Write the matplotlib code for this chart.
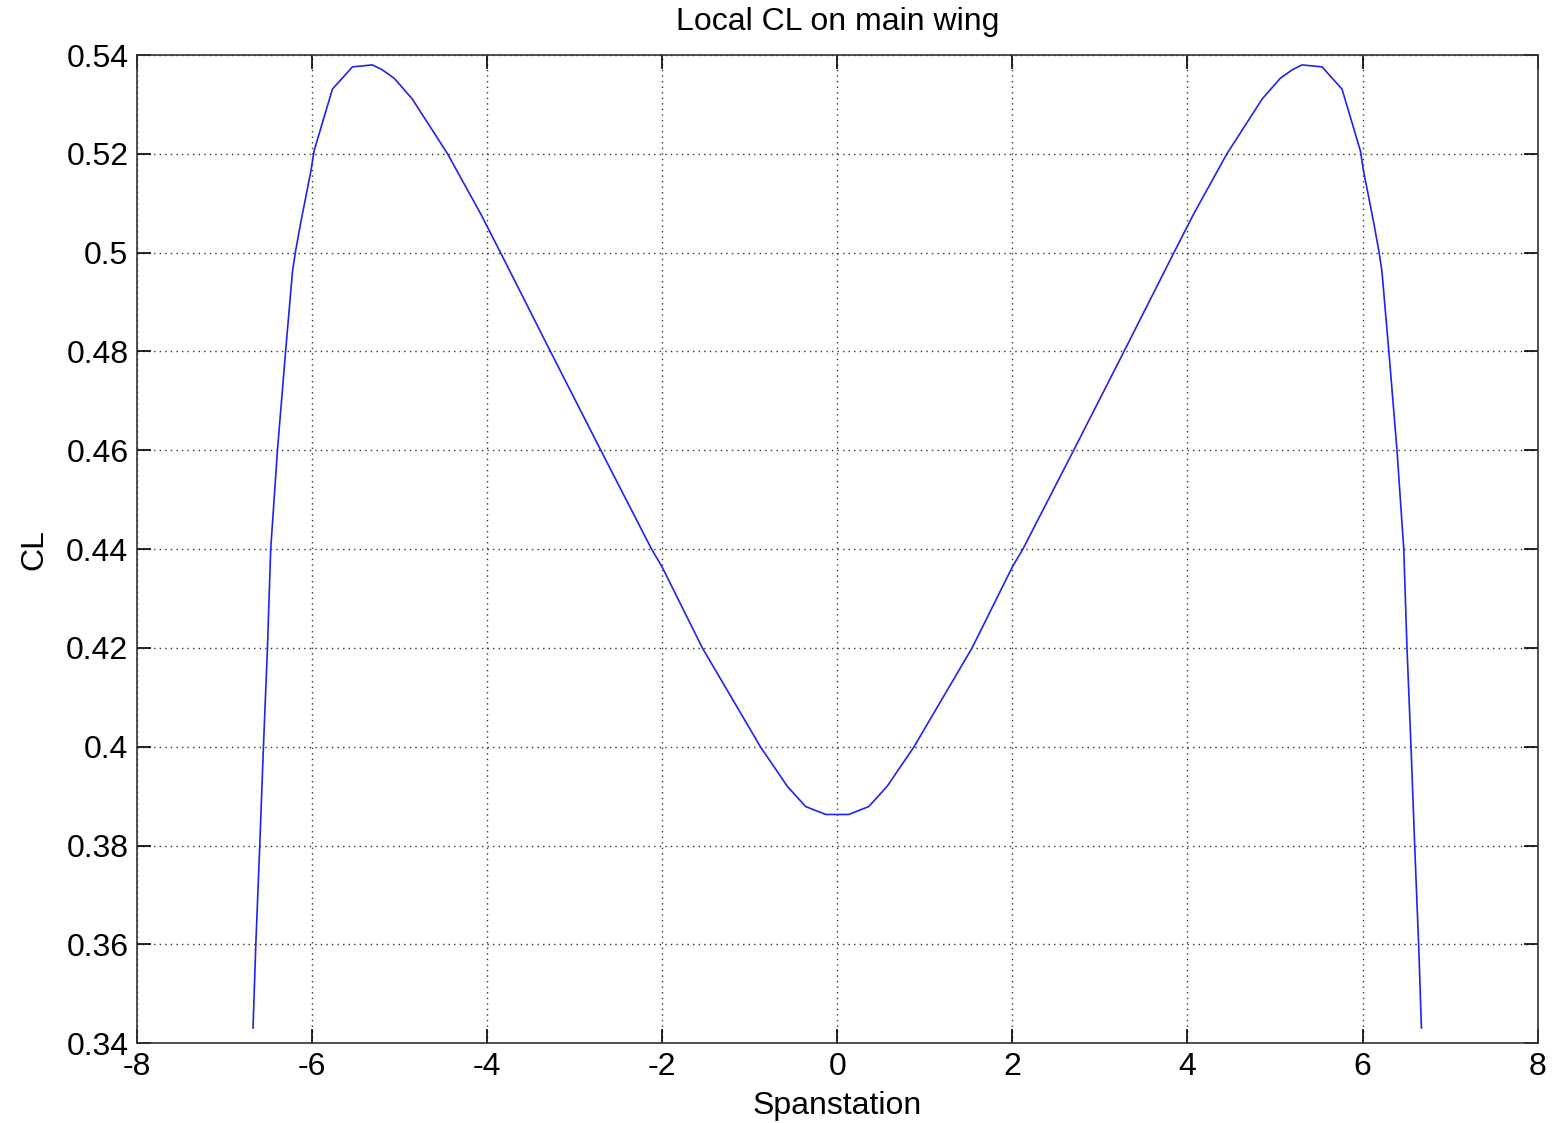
import matplotlib
matplotlib.use("Agg")
import matplotlib.pyplot as plt

plt.rcParams['font.family'] = ['Liberation Sans', 'DejaVu Sans']
plt.rcParams['axes.unicode_minus'] = False

span = [-6.672, -6.64, -6.595, -6.553, -6.507, -6.47, -6.393, -6.30, -6.22, -6.185,
        -6.13, -6.01, -5.975, -5.765, -5.537, -5.309, -5.195, -5.06, -4.853, -4.45,
        -4.07, -3.845, -3.275, -2.70, -2.12, -2.0, -1.54, -0.877, -0.57, -0.36, -0.13,
        0.13, 0.36, 0.57, 0.877, 1.54, 2.0, 2.12, 2.70, 3.275, 3.845,
        4.07, 4.45, 4.853, 5.06, 5.195, 5.309, 5.537, 5.765, 5.975, 6.01,
        6.13, 6.185, 6.22, 6.30, 6.393, 6.47, 6.507, 6.553, 6.595, 6.64, 6.672]
cl = [0.3431, 0.36, 0.38, 0.40, 0.42, 0.44, 0.46, 0.48, 0.4964, 0.5004,
      0.5058, 0.5166, 0.5206, 0.5331, 0.5376, 0.5380, 0.5370, 0.5353, 0.5311, 0.5200,
      0.5078, 0.50, 0.48, 0.46, 0.44, 0.4364, 0.42, 0.40, 0.392, 0.3879, 0.3863,
      0.3863, 0.3879, 0.392, 0.40, 0.42, 0.4364, 0.44, 0.46, 0.48, 0.50,
      0.5078, 0.5200, 0.5311, 0.5353, 0.5370, 0.5380, 0.5376, 0.5331, 0.5206, 0.5166,
      0.5058, 0.5004, 0.4964, 0.48, 0.46, 0.44, 0.42, 0.40, 0.38, 0.36, 0.3431]

xticks = [-8, -6, -4, -2, 0, 2, 4, 6, 8]
yticks = [0.34, 0.36, 0.38, 0.40, 0.42, 0.44, 0.46, 0.48, 0.50, 0.52, 0.54]
ytick_labels = ['0.34', '0.36', '0.38', '0.4', '0.42', '0.44', '0.46', '0.48', '0.5', '0.52', '0.54']

fig = plt.figure(figsize=(15.52, 11.23), dpi=100)
ax = fig.add_axes([0.0881, 0.0710, 0.9027, 0.8800])
ax.plot(span, cl, color='#2222ee', linewidth=1.2)

ax.set_xlim(-8, 8)
ax.set_ylim(0.34, 0.54)
ax.set_xticks(xticks)
ax.set_xticklabels([str(t) for t in xticks])
ax.set_yticks(yticks)
ax.set_yticklabels(ytick_labels)

ax.grid(True, color='#333333', linestyle=(0, (1, 3)), linewidth=1.0)
ax.tick_params(direction='in', length=10, width=1.2, labelsize=23, top=True, right=True, pad=6)
for s in ax.spines.values():
    s.set_linewidth(1.2)
    s.set_color('#333333')

ax.set_title('Local CL on main wing', fontsize=23, pad=18)
ax.set_xlabel('Spanstation', fontsize=23, labelpad=7)
ax.set_ylabel('CL', fontsize=23, labelpad=12)

fig.savefig('out.png', dpi=100)
